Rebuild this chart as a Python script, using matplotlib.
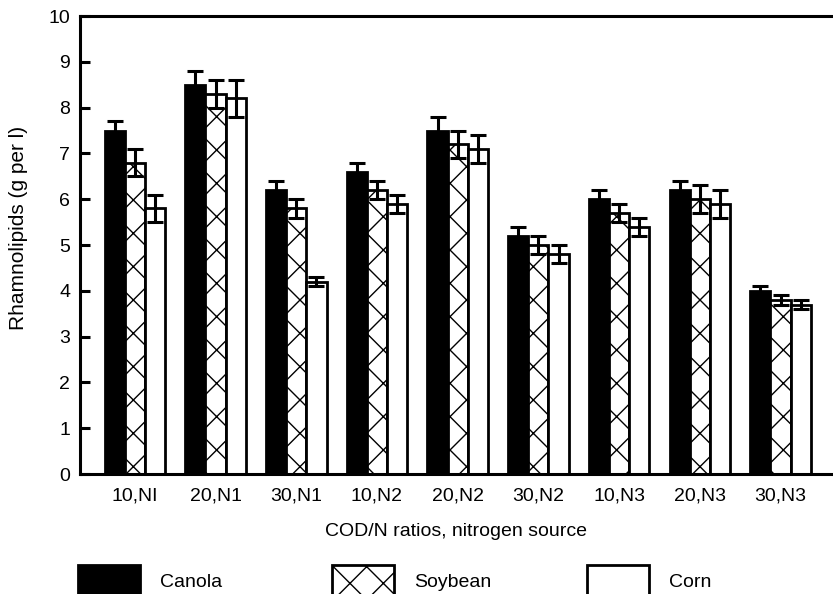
import numpy as np
import matplotlib
matplotlib.use("Agg")
import matplotlib.pyplot as plt

plt.rcParams["font.family"] = ["Liberation Sans", "DejaVu Sans"]
plt.rcParams["hatch.linewidth"] = 1.0

groups = ["10,NI", "20,N1", "30,N1", "10,N2", "20,N2", "30,N2", "10,N3", "20,N3", "30,N3"]
canola = [7.5, 8.5, 6.2, 6.6, 7.5, 5.2, 6.0, 6.2, 4.0]
canola_err = [0.2, 0.3, 0.2, 0.2, 0.3, 0.2, 0.2, 0.2, 0.1]
soybean = [6.8, 8.3, 5.8, 6.2, 7.2, 5.0, 5.7, 6.0, 3.8]
soybean_err = [0.3, 0.3, 0.2, 0.2, 0.3, 0.2, 0.2, 0.3, 0.1]
corn = [5.8, 8.2, 4.2, 5.9, 7.1, 4.8, 5.4, 5.9, 3.7]
corn_err = [0.3, 0.4, 0.1, 0.2, 0.3, 0.2, 0.2, 0.3, 0.1]

fig = plt.figure(figsize=(8.33, 5.94), dpi=100)
ax = fig.add_axes([0.096, 0.202, 0.904, 0.771])

x = np.arange(len(groups))
w = 0.25
err_kw = dict(ecolor="black", elinewidth=2.2, capsize=5.5, capthick=2.2)

b1 = ax.bar(x - w, canola, w, yerr=canola_err, color="black", edgecolor="black",
            linewidth=2, error_kw=err_kw, label="Canola")
b2 = ax.bar(x, soybean, w, yerr=soybean_err, color="white", edgecolor="black",
            hatch="x", linewidth=2, error_kw=err_kw, label="Soybean")
b3 = ax.bar(x + w, corn, w, yerr=corn_err, color="white", edgecolor="black",
            linewidth=2, error_kw=err_kw, label="Corn")

ax.set_xlim(-0.68, 8.65)
ax.set_ylim(0, 10)
ax.set_yticks(range(0, 11))
ax.set_xticks(x)
ax.set_xticklabels(groups)

for s in ["left", "top", "bottom"]:
    ax.spines[s].set_linewidth(2.2)
ax.spines["right"].set_visible(False)

ax.tick_params(axis="y", direction="in", length=7, width=2.2, labelsize=14, pad=7)
ax.tick_params(axis="x", length=0, labelsize=14, pad=10)

ax.set_xlabel("COD/N ratios, nitrogen source", fontsize=14, labelpad=13)
ax.set_ylabel("Rhamnolipids (g per l)", fontsize=15)
ax.yaxis.set_label_coords(-0.069, 0.537)

# legend entries placed at fixed columns below the axes
for handle, xpos in [(b1, 78), (b2, 332), (b3, 587)]:
    fig.legend(handles=[handle], loc="upper left",
               bbox_to_anchor=(xpos / 833, (594 - 565) / 594),
               frameon=False, fontsize=14, borderpad=0, borderaxespad=0,
               handlelength=3.2, handleheight=2.2, handletextpad=1.0)

fig.savefig("out.png", dpi=100)
